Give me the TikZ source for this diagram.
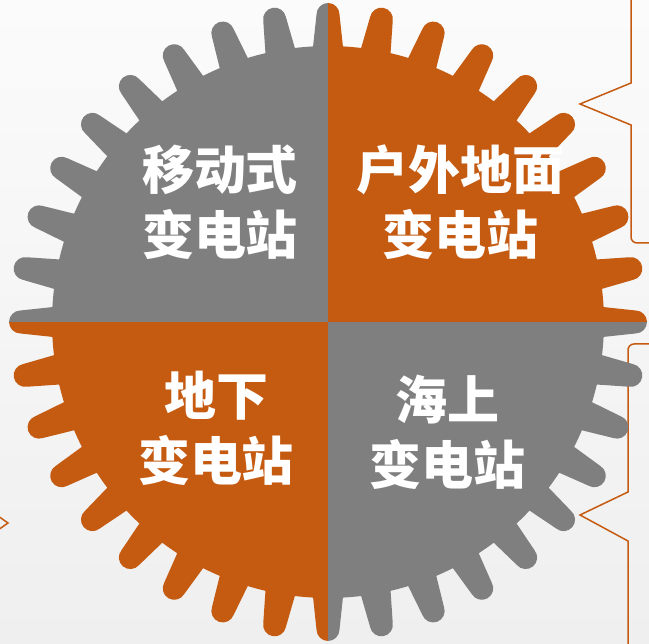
\documentclass[tikz,border=0pt]{standalone}
\usepackage{fontspec}
\newfontfamily\cjk{Noto Sans CJK SC}
\usetikzlibrary{calc}
\definecolor{gr}{HTML}{7F7F7F}
\definecolor{og}{HTML}{C55A11}
\definecolor{bgT}{HTML}{FBFBFB}
\definecolor{bgB}{HTML}{EFEFEF}
\tikzset{
  label text/.style={text=white, align=center, inner sep=0pt,
    font=\cjk\bfseries\fontsize{52}{65}\selectfont},
  brace line/.style={draw=og, line width=1.5pt}
}
\newcommand{\gearoutline}{%
  (-3.1:276pt)
  \foreach \i [evaluate=\i as \t using \i*10] in {0,...,35} {
    -- ($(\t:307.5pt)+({\t-90}:11.5pt)$)
    arc[start angle={\t-90}, end angle={\t+90}, radius=11.5pt]
    -- ({\t+3.1}:276pt)
    arc[start angle={\t+3.1}, end angle={\t+6.9}, radius=276pt]
  } -- cycle}
\begin{document}
\begin{tikzpicture}[x=1pt,y=1pt]
\useasboundingbox (0,0) rectangle (649,644);
\shade[top color=bgT, bottom color=bgB] (0,0) rectangle (649,644);
% right braces
\draw[brace line] (631,646) -- (631,561) -- (580,540) -- (631,519) -- (631,407)
  [rounded corners=6pt] -- (631,401) -- (651,401);
\draw[brace line, rounded corners=6pt] (651,300) -- (628,300) -- (628,152);
\draw[brace line] (628,153) -- (628,152) -- (580,129) -- (628,103) -- (628,-2);
% left arrow tip
\draw[brace line] (-2,128) -- (8,121) -- (-2,114);
% gear
\begin{scope}
  \clip[shift={(328,322)}] \gearoutline;
  \fill[gr] (328,322) rectangle (-5,650);
  \fill[og] (328,322) rectangle (655,650);
  \fill[og] (328,322) rectangle (-5,-5);
  \fill[gr] (328,322) rectangle (655,-5);
\end{scope}
\node[label text] (mobile) at (220,441.5) {移动式\\变电站};
\node[label text] (outdoor) at (460,441.5) {户外地面\\变电站};
\node[label text] (under) at (216,216) {地下\\变电站};
\node[label text] (sea) at (447,212) {海上\\变电站};
\end{tikzpicture}
\end{document}
